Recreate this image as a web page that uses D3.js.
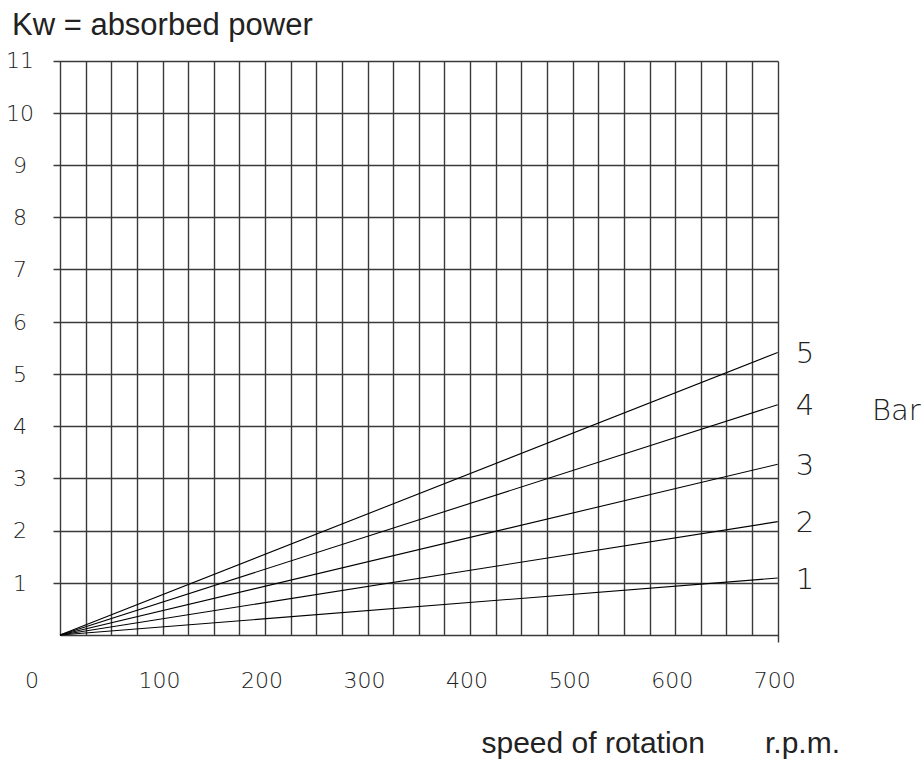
<!DOCTYPE html>
<html>
<head>
<meta charset="utf-8">
<script src="https://cdn.jsdelivr.net/npm/d3@7"></script>
<style>
  html, body { margin: 0; padding: 0; background: #fff; }
  svg text { fill: #222; }
  .lbl { font-family: "DejaVu Sans", sans-serif; font-weight: 200; }
  .ttl { font-family: "Liberation Sans", Arial, sans-serif; }
</style>
</head>
<body>
<svg id="chart" width="924" height="760"></svg>
<script>
// speed of rotation (rpm) at the two ends of each line
const speedRpm = [0, 700];
// absorbed power (kW) for each pressure line, read at 0 and 700 rpm
const bar1Kw = [0, 1.09];
const bar2Kw = [0, 2.17];
const bar3Kw = [0, 3.27];
const bar4Kw = [0, 4.41];
const bar5Kw = [0, 5.41];
const barNames = ['1', '2', '3', '4', '5'];

const rpmTicks = [0, 100, 200, 300, 400, 500, 600, 700];
const kwTicks = [1, 2, 3, 4, 5, 6, 7, 8, 9, 10, 11];
const rpmGridStep = 25;

const svg = d3.select('#chart');

const x = d3.scaleLinear().domain([0, 700]).range([60, 777.7]);
const y = d3.scaleLinear().domain([0, 11]).range([635, 60.5]);

// snap grid lines onto pixel centres so they all look the same
const px = v => Math.round(v) + 0.5;

// grid
const grid = svg.append('g')
  .attr('stroke', '#3a3a3a')
  .attr('stroke-width', 1.4);

grid.selectAll('line.h')
  .data([0].concat(kwTicks))
  .enter()
  .append('line')
  .attr('class', 'h')
  .attr('x1', d => d === 0 ? px(x(0)) : px(x(0)) - 7)
  .attr('x2', px(x(700)))
  .attr('y1', d => px(y(d)))
  .attr('y2', d => px(y(d)));

grid.selectAll('line.v')
  .data(d3.range(0, 701, rpmGridStep))
  .enter()
  .append('line')
  .attr('class', 'v')
  .attr('x1', d => px(x(d)))
  .attr('x2', d => px(x(d)))
  .attr('y1', px(y(11)))
  .attr('y2', d => d === 700 ? px(y(0)) + 7 : px(y(0)));

// power lines
const series = [bar1Kw, bar2Kw, bar3Kw, bar4Kw, bar5Kw].map((vals, i) => ({
  name: barNames[i],
  points: speedRpm.map((s, j) => [s, vals[j]])
}));

const line = d3.line()
  .x(d => x(d[0]))
  .y(d => y(d[1]));

svg.append('g')
  .selectAll('path')
  .data(series)
  .enter()
  .append('path')
  .attr('d', d => line(d.points))
  .attr('fill', 'none')
  .attr('stroke', '#000')
  .attr('stroke-width', 1.1);

// line labels
svg.append('g')
  .selectAll('text')
  .data(series)
  .enter()
  .append('text')
  .attr('class', 'lbl')
  .attr('x', 805)
  .attr('y', d => y(d.points[d.points.length - 1][1]))
  .attr('dy', '0.36em')
  .attr('text-anchor', 'middle')
  .style('font-size', '29px')
  .text(d => d.name);

svg.append('text')
  .attr('class', 'lbl')
  .attr('x', 872)
  .attr('y', 410)
  .attr('dy', '0.36em')
  .style('font-size', '29px')
  .text('Bar');

// y tick labels
svg.append('g')
  .selectAll('text')
  .data(kwTicks)
  .enter()
  .append('text')
  .attr('class', 'lbl')
  .attr('x', 20)
  .attr('y', d => y(d))
  .attr('dy', '0.36em')
  .attr('text-anchor', 'middle')
  .style('font-size', '22px')
  .text(d => d);

// x tick labels
svg.append('g')
  .selectAll('text')
  .data(rpmTicks)
  .enter()
  .append('text')
  .attr('class', 'lbl')
  .attr('x', d => d === 0 ? x(d) - 28 : x(d) - 3)
  .attr('y', 680)
  .attr('dy', '0.36em')
  .attr('text-anchor', 'middle')
  .style('font-size', '22px')
  .text(d => d);

// titles
svg.append('text')
  .attr('class', 'ttl')
  .attr('x', 12)
  .attr('y', 35)
  .style('font-size', '31px')
  .text('Kw = absorbed power');

svg.append('text')
  .attr('class', 'ttl')
  .attr('x', 705)
  .attr('y', 753)
  .attr('text-anchor', 'end')
  .style('font-size', '30px')
  .text('speed of rotation');

svg.append('text')
  .attr('class', 'ttl')
  .attr('x', 765)
  .attr('y', 753)
  .style('font-size', '30px')
  .text('r.p.m.');
</script>
</body>
</html>
